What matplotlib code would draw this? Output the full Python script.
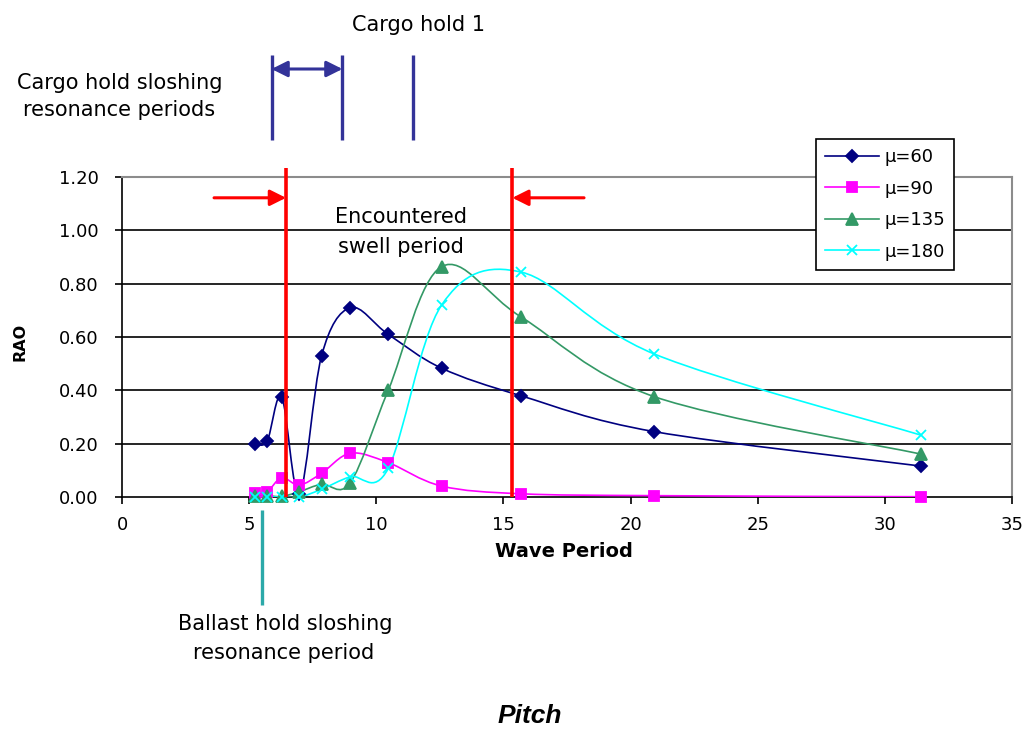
import numpy as np
import matplotlib
matplotlib.use("Agg")
import matplotlib.pyplot as plt
from matplotlib.path import Path
from matplotlib.patches import PathPatch
from matplotlib.lines import Line2D

plt.rcParams['font.family'] = ['DejaVu Sans']

# Wave periods (s) at which the pitch RAO was evaluated
wave_period = [5.24, 5.71, 6.28, 6.98, 7.85, 8.98, 10.47, 12.57, 15.71, 20.94, 31.42]

# Pitch RAO for each heading
rao_mu60 = [0.20, 0.21, 0.375, 0.01, 0.53, 0.71, 0.61, 0.483, 0.379, 0.245, 0.116]
rao_mu90 = [0.014, 0.02, 0.072, 0.045, 0.089, 0.164, 0.129, 0.041, 0.012, 0.005, 0.001]
rao_mu135 = [0.005, 0.005, 0.002, 0.02, 0.048, 0.054, 0.40, 0.864, 0.674, 0.376, 0.161]
rao_mu180 = [0.0, 0.0, 0.0, 0.0, 0.029, 0.076, 0.107, 0.72, 0.843, 0.536, 0.232]

series_labels = ["\u03bc=60", "\u03bc=90", "\u03bc=135", "\u03bc=180"]
y_ticks = [0.0, 0.2, 0.4, 0.6, 0.8, 1.0, 1.2]
x_ticks = [0, 5, 10, 15, 20, 25, 30, 35]

# Reference periods marked on the chart
swell_period_bounds = [6.45, 15.35]
cargo_hold_periods = [5.88, 8.67, 11.45]
ballast_hold_period = 5.5

W, H = 1027, 730
fig = plt.figure(figsize=(W / 100, H / 100), dpi=100)
fig.patch.set_facecolor("white")


def fx(px):
    return px / W


def fy(py):
    return 1 - py / H


ax = fig.add_axes([fx(122), fy(497), (1012 - 122) / W, (497 - 177) / H])
ax.set_xlim(0, 35)
ax.set_ylim(0, 1.2)


def smooth_path(xs, ys):
    """Cubic Bezier path through the points (Catmull-Rom style smoothing)."""
    pts = np.column_stack([xs, ys]).astype(float)
    n = len(pts)
    verts = [pts[0]]
    codes = [Path.MOVETO]
    for i in range(n - 1):
        p0 = pts[i - 1] if i > 0 else pts[i]
        p1 = pts[i]
        p2 = pts[i + 1]
        p3 = pts[i + 2] if i + 2 < n else pts[i + 1]
        c1 = p1 + (p2 - p0) / 6.0
        c2 = p2 - (p3 - p1) / 6.0
        verts += [c1, c2, p2]
        codes += [Path.CURVE4] * 3
    return Path(verts, codes)


styles = [
    dict(color="#000080", marker="D", ms=6.5),
    dict(color="#FF00FF", marker="s", ms=7),
    dict(color="#339966", marker="^", ms=8),
    dict(color="#00FFFF", marker="x", ms=7),
]
all_series = [rao_mu60, rao_mu90, rao_mu135, rao_mu180]

handles = []
for vals, st, lab in zip(all_series, styles, series_labels):
    ax.add_patch(PathPatch(smooth_path(wave_period, vals), facecolor="none",
                           edgecolor=st["color"], lw=1.2, zorder=3))
    ax.plot(wave_period, vals, ls="none", marker=st["marker"], ms=st["ms"],
            color=st["color"], mec=st["color"], mew=1.3, zorder=4, clip_on=False)
    handles.append(Line2D([], [], color=st["color"], lw=1.2, marker=st["marker"],
                          ms=st["ms"], mew=1.3, label=lab))

# Gridlines and frame
for yv in y_ticks[1:-1]:
    ax.axhline(yv, color="black", lw=1.2, zorder=1)
ax.spines["top"].set_color("#8c8c8c")
ax.spines["right"].set_color("#8c8c8c")
ax.spines["top"].set_linewidth(1.5)
ax.spines["right"].set_linewidth(1.5)
ax.spines["left"].set_linewidth(1.2)
ax.spines["bottom"].set_linewidth(1.2)

ax.set_xticks(x_ticks)
ax.set_yticks(y_ticks)
ax.set_yticklabels(["%.2f" % v for v in y_ticks])
ax.tick_params(axis="y", direction="out", length=5, width=1.2, pad=12, labelsize=13)
ax.tick_params(axis="x", direction="out", length=5, width=1.2, pad=9, labelsize=13)

fig.text(fx(564), fy(551.5), "Wave Period", ha="center", va="center",
         fontsize=14, fontweight="bold")
fig.text(fx(20), fy(342), "RAO", ha="center", va="center", rotation=90,
         fontsize=11.5, fontweight="bold")

# Encountered swell period: red vertical bounds with inward arrows
for xv in swell_period_bounds:
    ax.plot([xv, xv], [0, 1.234], color="#FF0000", lw=2.6, zorder=6,
            clip_on=False, solid_capstyle="butt")
arrow_y = 1.122
ax.annotate("", xy=(swell_period_bounds[0], arrow_y), xytext=(3.62, arrow_y),
            xycoords="data", annotation_clip=False,
            arrowprops=dict(arrowstyle="-|>", color="#FF0000", lw=2.2,
                            mutation_scale=24, shrinkA=0, shrinkB=0), zorder=6)
ax.annotate("", xy=(swell_period_bounds[1], arrow_y), xytext=(18.17, arrow_y),
            xycoords="data", annotation_clip=False,
            arrowprops=dict(arrowstyle="-|>", color="#FF0000", lw=2.2,
                            mutation_scale=24, shrinkA=0, shrinkB=0), zorder=6)
fig.text(fx(401), fy(223), "Encountered", ha="center", va="baseline", fontsize=15)
fig.text(fx(401), fy(253), "swell period", ha="center", va="baseline", fontsize=15)

# Cargo hold sloshing resonance periods
blue = "#333399"
for xv in cargo_hold_periods:
    ax.plot([xv, xv], [1.339, 1.6575], color=blue, lw=2.4, clip_on=False,
            solid_capstyle="butt")
ax.annotate("", xy=(cargo_hold_periods[1], 1.605), xytext=(cargo_hold_periods[0], 1.605),
            xycoords="data", annotation_clip=False,
            arrowprops=dict(arrowstyle="<|-|>", color=blue, lw=2.2,
                            mutation_scale=24, shrinkA=0, shrinkB=0))
fig.text(fx(418), fy(31), "Cargo hold 1", ha="center", va="baseline", fontsize=15)
fig.text(fx(120), fy(89), "Cargo hold sloshing", ha="center", va="baseline", fontsize=15)
fig.text(fx(119), fy(116), "resonance periods", ha="center", va="baseline", fontsize=15)

# Ballast hold sloshing resonance period
ax.plot([ballast_hold_period, ballast_hold_period], [-0.04875, -0.405], color="#2CA9A9",
        lw=2.4, clip_on=False, solid_capstyle="butt")
fig.text(fx(285), fy(630), "Ballast hold sloshing", ha="center", va="baseline", fontsize=15)
fig.text(fx(284), fy(659), "resonance period", ha="center", va="baseline", fontsize=15)

fig.text(fx(529.5), fy(723), "Pitch", ha="center", va="baseline", fontsize=19,
         fontweight="bold", fontstyle="italic", family="Liberation Sans")

leg = fig.legend(handles=handles, loc="upper left", bbox_to_anchor=(fx(816), fy(139)),
                 bbox_transform=fig.transFigure, fontsize=13, frameon=True,
                 fancybox=False, edgecolor="black", framealpha=1, numpoints=1,
                 handlelength=3.0, handletextpad=0.3, labelspacing=0.75,
                 borderpad=0.5, borderaxespad=0)
leg.get_frame().set_linewidth(1.2)
leg.set_zorder(10)

fig.savefig("out.png", dpi=100, facecolor="white")
